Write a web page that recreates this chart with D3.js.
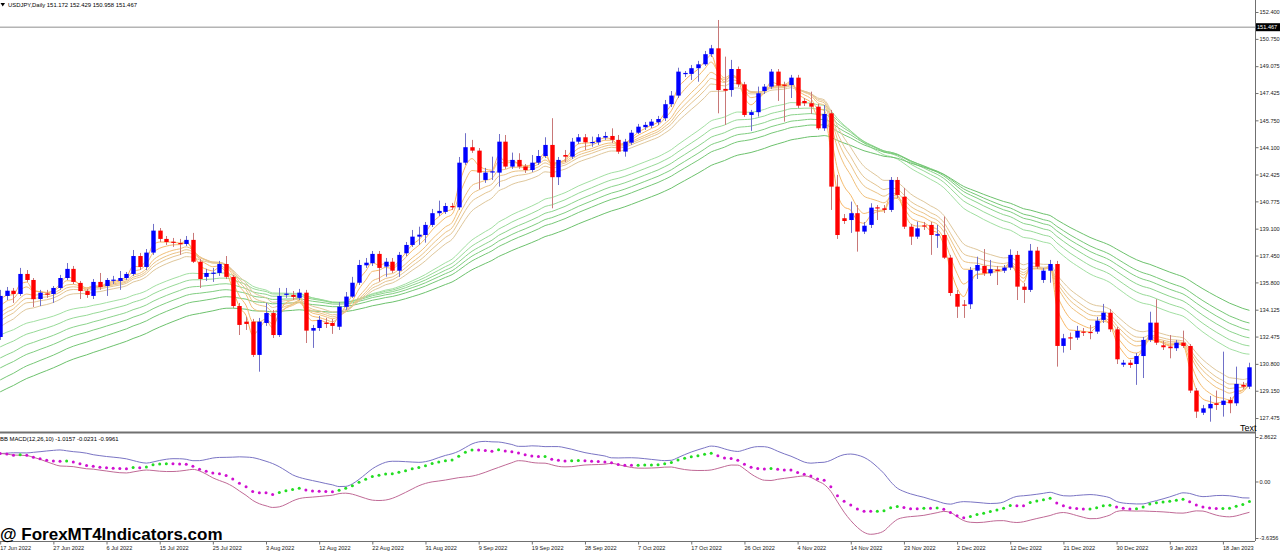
<!DOCTYPE html>
<html><head><meta charset="utf-8">
<script src="https://cdnjs.cloudflare.com/ajax/libs/d3/7.8.5/d3.min.js"></script>
<style>
body{margin:0;background:#fff;overflow:hidden}
svg{display:block}
text{font-family:"Liberation Sans",Arial,sans-serif}
</style></head>
<body><svg id="c" width="1280" height="552"></svg>
<script>
// ---------------- data ----------------
const opens = [132.45,134.97,135.29,135.09,136.32,135.95,134.78,135.12,135.09,135.46,136.07,136.63,135.77,135.27,134.97,135.83,135.58,135.93,135.89,136.07,
136.32,137.42,136.75,137.63,138.98,138.47,138.30,138.22,138.16,138.41,137.07,136.14,136.36,136.38,136.93,136.14,134.35,133.39,133.39,131.35,
133.31,133.92,132.57,135.07,135.03,134.85,135.17,132.84,133.00,133.33,133.31,133.08,134.30,134.93,135.78,136.85,136.98,137.55,136.77,137.07,
136.52,137.59,138.10,138.61,138.71,139.33,140.05,140.13,140.49,140.41,143.15,144.10,143.89,142.09,142.58,142.54,144.44,142.91,143.32,142.91,
142.70,143.15,143.56,144.24,142.26,143.62,143.52,144.44,144.71,144.38,144.40,144.69,144.79,144.55,143.83,144.38,144.99,145.33,145.42,145.63,
145.88,146.74,147.27,148.62,148.60,148.95,149.19,149.81,150.17,147.68,147.61,148.90,147.96,146.08,146.25,147.55,147.82,148.74,147.94,147.92,
148.37,146.94,146.80,146.59,145.26,146.18,141.68,139.74,139.63,140.05,138.92,139.33,140.41,140.35,140.25,142.09,141.06,139.22,138.61,139.30,
139.33,138.67,138.71,137.32,135.09,134.44,134.46,136.52,136.81,136.36,136.58,136.52,136.71,137.49,135.54,135.34,137.75,135.95,136.52,136.93,
131.90,132.43,132.41,132.78,132.76,132.78,133.50,133.94,132.92,130.75,130.87,130.79,131.28,132.27,133.33,131.94,131.86,131.76,132.10,131.90,
129.16,127.80,128.07,128.38,128.28,128.58,128.38,129.51,129.40];
const highs = [135.34,135.52,135.46,136.69,136.56,136.07,135.34,135.34,135.58,136.26,136.99,136.81,135.89,135.40,136.01,136.38,136.07,136.20,136.50,136.44,
137.79,137.61,137.85,139.39,139.14,138.65,138.53,138.47,138.65,138.84,137.24,136.63,136.69,137.12,137.42,136.26,134.54,133.68,133.56,133.62,
134.54,134.11,135.46,135.46,135.27,135.40,135.34,133.19,133.74,133.62,133.56,134.60,135.21,136.14,137.18,137.30,137.73,137.73,137.30,137.30,
137.67,138.28,139.02,139.22,139.51,140.31,140.82,140.68,140.68,143.50,144.96,144.55,144.05,142.83,143.52,144.91,144.85,143.77,143.73,143.07,
143.62,143.93,144.71,145.88,143.50,143.93,144.67,144.91,144.91,144.75,144.91,145.04,145.26,144.85,144.61,145.16,145.53,145.65,145.83,146.02,
147.00,147.55,148.98,148.78,149.15,149.40,150.01,150.38,151.91,149.66,149.46,149.05,148.11,146.39,147.82,147.98,148.90,148.90,148.12,148.54,
148.54,147.12,147.51,146.76,146.69,146.39,142.40,140.00,140.76,140.55,139.51,140.66,140.55,140.55,142.27,142.27,141.60,139.39,139.53,139.51,
139.51,139.33,139.84,137.49,135.34,134.72,136.75,137.38,137.85,137.18,136.81,136.87,137.83,137.73,135.77,138.16,137.98,136.69,137.18,137.12,
132.64,132.72,133.13,133.00,133.19,133.68,134.48,134.17,133.06,131.04,131.04,131.47,132.45,134.00,134.77,132.21,132.57,132.27,132.84,132.02,
129.32,128.28,128.83,129.16,131.55,128.77,130.63,129.69,130.87];
const lows = [132.27,134.72,134.54,134.97,135.83,134.29,134.35,134.85,134.54,135.34,135.95,135.70,134.78,134.85,134.78,135.34,134.97,135.70,135.34,135.95,
136.20,136.56,136.56,137.49,138.28,138.10,137.98,137.49,138.04,136.99,135.46,135.89,135.83,136.20,136.01,134.23,132.57,132.88,131.22,130.32,
133.13,132.39,132.45,134.85,134.72,134.72,132.08,131.78,132.82,133.00,132.64,132.88,134.11,134.85,135.64,136.69,136.81,135.85,136.15,136.38,
136.14,137.42,137.98,138.10,138.24,139.20,139.88,140.00,140.25,140.25,143.01,143.75,141.52,141.91,142.09,141.68,142.77,142.77,142.77,142.52,
142.58,143.01,143.44,140.35,141.78,143.19,143.38,144.30,143.93,144.13,144.24,144.55,144.36,143.69,143.52,144.24,144.91,145.16,145.28,145.47,
145.71,146.57,147.12,148.41,148.23,148.12,149.09,149.64,146.18,145.47,147.20,147.80,145.96,145.10,145.98,147.37,147.68,146.94,145.67,147.12,
146.51,146.63,146.14,145.16,145.10,140.25,138.47,139.39,138.84,137.69,138.77,139.14,139.63,140.06,140.12,140.98,139.08,138.10,138.47,139.02,
137.49,137.92,137.24,134.97,133.62,133.62,134.17,136.01,136.20,136.20,135.64,136.38,136.56,134.72,134.54,135.21,136.63,135.77,135.78,130.63,
131.49,131.65,132.27,132.51,132.31,132.64,133.31,132.76,130.79,130.61,130.55,129.51,129.93,132.14,131.96,131.65,131.14,131.59,131.78,129.01,
127.48,127.66,127.25,127.97,127.56,127.77,128.22,129.26,129.26];
const closes = [134.97,135.29,135.09,136.32,135.95,134.77,135.17,135.08,135.46,136.07,136.63,135.83,135.27,135.03,135.83,135.52,135.95,135.97,136.07,136.32,
137.42,136.75,137.63,138.98,138.47,138.28,138.26,138.16,138.41,137.07,136.01,136.38,136.40,136.93,136.14,134.35,133.19,133.25,131.35,133.39,
133.92,132.57,134.97,135.11,134.91,135.17,132.84,133.00,133.50,133.25,133.13,134.31,134.93,135.78,136.87,137.01,137.55,136.69,137.07,136.52,
137.49,138.10,138.61,138.73,139.33,140.05,140.19,140.49,140.41,143.15,144.10,143.89,142.54,142.54,142.62,144.44,142.91,143.32,142.91,142.70,
143.15,143.56,144.24,142.26,143.32,143.52,144.44,144.71,144.40,144.42,144.71,144.79,144.55,143.83,144.44,144.99,145.36,145.47,145.67,145.83,
146.74,147.27,148.74,148.66,148.95,149.19,149.81,150.17,147.61,147.57,148.90,147.96,146.08,146.25,147.41,147.82,148.74,147.88,147.90,148.37,
146.65,146.80,146.59,145.26,146.14,141.68,138.71,139.57,140.05,138.92,139.28,140.39,140.37,140.25,142.09,141.17,139.22,138.61,139.12,139.26,
138.71,138.76,137.32,135.15,134.31,134.40,136.56,136.87,136.36,136.61,136.54,136.71,137.49,135.54,135.34,137.75,136.77,136.52,136.93,131.90,
132.37,132.39,132.82,132.74,132.72,133.45,133.94,132.92,131.08,130.87,130.73,131.28,132.27,133.33,132.10,131.82,131.76,132.10,131.90,129.16,
127.87,128.07,128.34,128.28,128.54,128.38,129.57,129.40,130.59];

const dateLabels = ["17 Jun 2022","27 Jun 2022","6 Jul 2022","15 Jul 2022","25 Jul 2022","3 Aug 2022","12 Aug 2022","22 Aug 2022",
"31 Aug 2022","9 Sep 2022","19 Sep 2022","28 Sep 2022","7 Oct 2022","17 Oct 2022","26 Oct 2022","4 Nov 2022","14 Nov 2022",
"23 Nov 2022","2 Dec 2022","12 Dec 2022","21 Dec 2022","30 Dec 2022","9 Jan 2023","18 Jan 2023"];
const barsPerLabel = 8;
const priceTicks = [152.400,150.750,149.075,147.425,145.750,144.100,142.425,140.775,139.100,137.450,135.800,134.125,132.475,130.800,129.150,127.475];
const macdTicks = [2.8622, 0, -3.6356];
const macdTickLabels = ["2.8622","0.00","-3.6356"];
const lastPrice = 151.467;
const headerText = "USDJPY,Daily  151.172 152.429 150.958 151.467";
const macdHeader = "BB MACD(12,26,10) -1.0157 -0.0231 -0.9961";

// Guppy moving averages: periods and their values at the first visible bar
const shortPeriods = [3,5,8,10,12,15];
const shortStart = [134.72,134.35,133.92,133.68,133.43,133.06];
const longPeriods = [30,35,40,45,50,60];
const longStart = [132.57,131.84,131.16,130.55,129.81,129.08];
const macdFast = 12, macdSlow = 26, bbLen = 10, bbDev = 2.7;
const macdStart = [134.10, 132.30];

// ---------------- drawing ----------------
const N = closes.length;
const svg = d3.select("#c");
const plotR = 1255, mainBot = 432, axisY = 541;
const x = d3.scaleLinear().domain([0, N-1]).range([0.2, 0.2 + (N-1)*6.645]);
const y = d3.scaleLinear().domain([126.617, 153.137]).range([432, 0]);
const ym = d3.scaleLinear().domain([-3.6356, 2.8622]).range([538, 437]);

function ema(vals, p, seed){ const a = 2/(p+1); let e = seed; return vals.map((v,i)=>{ if(i>0) e = e + a*(v-e); return e; }); }

const defs = svg.append("defs");
defs.append("clipPath").attr("id","cm").append("rect").attr("x",0).attr("y",0).attr("width",plotR).attr("height",mainBot);
defs.append("clipPath").attr("id","cd").append("rect").attr("x",0).attr("y",434).attr("width",plotR).attr("height",106);

const gMain = svg.append("g").attr("clip-path","url(#cm)");
// last price line
gMain.append("line").attr("x1",0).attr("x2",plotR).attr("y1",y(lastPrice)).attr("y2",y(lastPrice))
  .attr("stroke","#b4b4b4").attr("stroke-width",1.6);

// moving averages
const shortCols = ["#fab45e","#f6bb6c","#f1c07a","#ebc386","#e5c591","#dfc79b"];
const longCols  = ["#a2e0a2","#97da97","#8cd48c","#81ce81","#77c877","#6dc26d"];
const line = d3.line().x((d,i)=>x(i)).y(d=>y(d)).curve(d3.curveMonotoneX);
longPeriods.forEach((p,k)=>{
  gMain.append("path").attr("d", line(ema(closes,p,longStart[k]))).attr("fill","none").attr("stroke",longCols[k]).attr("stroke-width",1);
});
shortPeriods.forEach((p,k)=>{
  gMain.append("path").attr("d", line(ema(closes,p,shortStart[k]))).attr("fill","none").attr("stroke",shortCols[k]).attr("stroke-width",1);
});

// candles
const idx = d3.range(N);
const bw = 4.4;
gMain.selectAll("line.w").data(idx).join("line").attr("class","w")
  .attr("x1",i=>Math.round(x(i))+0.5).attr("x2",i=>Math.round(x(i))+0.5)
  .attr("y1",i=>y(highs[i])).attr("y2",i=>y(lows[i]))
  .attr("stroke",i=>closes[i]>=opens[i]?"#7070c8":"#c87878").attr("stroke-width",1);
gMain.selectAll("rect.b").data(idx).join("rect").attr("class","b")
  .attr("x",i=>Math.round(x(i))+0.5-bw/2).attr("width",bw)
  .attr("y",i=>y(Math.max(opens[i],closes[i])))
  .attr("height",i=>Math.max(1.2, y(Math.min(opens[i],closes[i]))-y(Math.max(opens[i],closes[i]))))
  .attr("fill",i=>closes[i]>=opens[i]?"#0000ff":"#ff0000");

// MACD panel
const fast = ema(closes, macdFast, macdStart[0]);
const slow = ema(closes, macdSlow, macdStart[1]);
const macd = fast.map((f,i)=>f-slow[i]);
const avg = ema(macd, bbLen, macd[0]);
const upper = [], lower = [];
macd.forEach((m,i)=>{
  const w = macd.slice(Math.max(0,i-bbLen+1), i+1);
  const sd = Math.sqrt(d3.sum(w, v=>(v-avg[i])*(v-avg[i]))/bbLen);
  upper.push(avg[i]+bbDev*sd); lower.push(avg[i]-bbDev*sd);
});
const gM = svg.append("g").attr("clip-path","url(#cd)");
const mline = d3.line().x((d,i)=>x(i)).y(d=>ym(d)).curve(d3.curveMonotoneX);
gM.append("path").attr("d",mline(upper)).attr("fill","none").attr("stroke","#7a74c4").attr("stroke-width",1);
gM.append("path").attr("d",mline(lower)).attr("fill","none").attr("stroke","#c06a96").attr("stroke-width",1);
gM.selectAll("circle").data(idx).join("circle")
  .attr("cx",i=>x(i)).attr("cy",i=>ym(macd[i])).attr("r",1.5)
  .attr("fill",i=>(i>0 && macd[i]>macd[i-1])?"#22dd22":"#d010d0");

// frames
svg.append("line").attr("x1",0).attr("x2",plotR).attr("y1",432.5).attr("y2",432.5).attr("stroke","#707070").attr("stroke-width",2);
svg.append("line").attr("x1",0).attr("x2",plotR).attr("y1",axisY+0.5).attr("y2",axisY+0.5).attr("stroke","#707070").attr("stroke-width",1);
svg.append("line").attr("x1",plotR+0.5).attr("x2",plotR+0.5).attr("y1",0).attr("y2",axisY).attr("stroke","#707070").attr("stroke-width",1);

// price axis
const pa = svg.append("g").attr("transform",`translate(${plotR+0.5},0)`)
  .call(d3.axisRight(y).tickValues(priceTicks).tickFormat(d3.format(".3f")).tickSize(3).tickPadding(1));
pa.select(".domain").remove();
pa.selectAll("line").attr("stroke","#707070");
pa.selectAll("text").attr("font-size","5.6px").attr("fill","#222").attr("font-family","Liberation Sans, Arial, sans-serif");
// last price box
svg.append("rect").attr("x",plotR+1).attr("y",y(lastPrice)-4).attr("width",24).attr("height",8).attr("fill","#000");
svg.append("text").attr("x",plotR+2).attr("y",y(lastPrice)+2).attr("font-size","5.6px").attr("fill","#fff").text(d3.format(".3f")(lastPrice));

// macd axis
const ma = svg.append("g").attr("transform",`translate(${plotR+0.5},0)`)
  .call(d3.axisRight(ym).tickValues(macdTicks).tickFormat((d,i)=>macdTickLabels[i]).tickSize(3).tickPadding(1));
ma.select(".domain").remove();
ma.selectAll("line").attr("stroke","#707070");
ma.selectAll("text").attr("font-size","5.6px").attr("fill","#222").attr("font-family","Liberation Sans, Arial, sans-serif");

// time axis
const labelBars = dateLabels.map((d,i)=>i*barsPerLabel);
const ta = svg.append("g").attr("transform",`translate(0,${axisY+0.5})`)
  .call(d3.axisBottom(x).tickValues(labelBars).tickFormat((d,i)=>dateLabels[i]).tickSize(3).tickPadding(2));
ta.select(".domain").remove();
ta.selectAll("line").attr("stroke","#707070");
ta.selectAll("text").attr("font-size","5.6px").attr("fill","#222").attr("text-anchor","start").attr("dx","-0.5")
  .attr("font-family","Liberation Sans, Arial, sans-serif");

// header texts
svg.append("path").attr("d","M0.5,3 L5,3 L2.75,6.5 Z").attr("fill","#000");
svg.append("text").attr("x",8).attr("y",6.6).attr("font-size","5.9px").attr("fill","#000").text(headerText);
svg.append("text").attr("x",0).attr("y",440.6).attr("font-size","5.9px").attr("fill","#000").text(macdHeader);
svg.append("text").attr("x",1240).attr("y",430.5).attr("font-size","9px").attr("fill","#000").text("Text");

// watermark
svg.append("text").attr("x",0).attr("y",540).attr("font-size","17px").attr("font-weight","bold").attr("fill","#000")
  .text("@ ForexMT4Indicators.com");
</script></body></html>
